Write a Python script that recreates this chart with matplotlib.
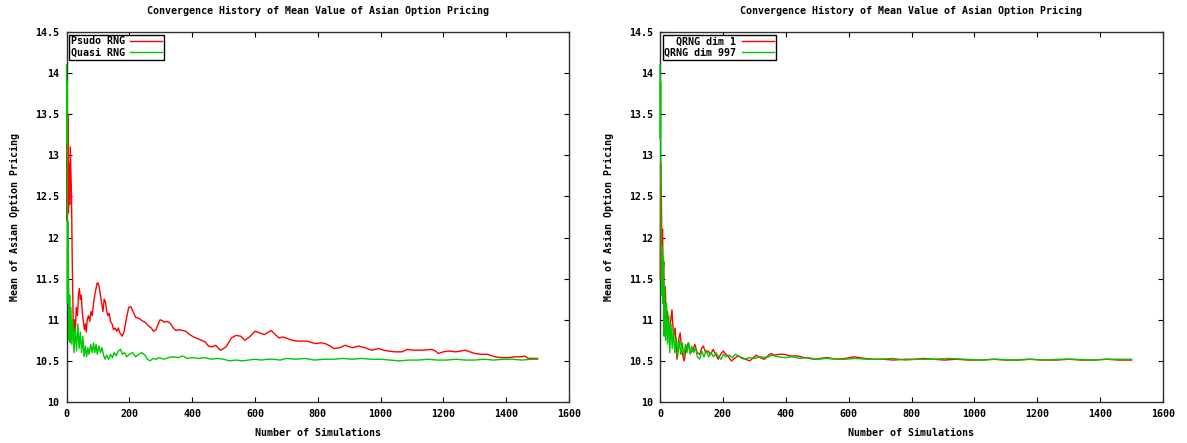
import matplotlib
matplotlib.use("Agg")
import matplotlib.pyplot as plt

# ---------------- data ----------------
title_text = "Convergence History of Mean Value of Asian Option Pricing"
x_label = "Number of Simulations"
y_label = "Mean of Asian Option Pricing"
x_ticks = [0, 200, 400, 600, 800, 1000, 1200, 1400, 1600]
y_ticks = [10, 10.5, 11, 11.5, 12, 12.5, 13, 13.5, 14, 14.5]

# Left panel: Psudo RNG
psudo_x = [1, 2, 4, 6, 8, 10, 12, 14, 16, 18,
           20, 22, 25, 28, 31, 35, 38, 41, 44, 47,
           50, 53, 57, 60, 63, 66, 70, 74, 78, 82,
           86, 90, 94, 97, 100, 104, 108, 112, 116, 120,
           124, 128, 132, 136, 140, 145, 150, 155, 160, 165,
           170, 177, 183, 190, 198, 205, 212, 220, 230, 240,
           250, 260, 270, 277, 285, 292, 298, 305, 312, 320,
           330, 340, 348, 358, 370, 380, 392, 405, 418, 430,
           442, 452, 463, 475, 490, 500, 510, 525, 540, 555,
           568, 585, 600, 615, 630, 652, 665, 676, 690, 705,
           720, 740, 766, 793, 810, 824, 840, 851, 870, 888,
           910, 930, 950, 972, 993, 1010, 1025, 1045, 1068, 1085,
           1105, 1130, 1163, 1175, 1184, 1200, 1216, 1240, 1269, 1285,
           1300, 1320, 1340, 1364, 1385, 1406, 1430, 1450, 1459, 1470,
           1500]
psudo_y = [13.2, 12.2, 13.5, 12.3, 12.9, 12.4, 13.1, 12.8, 12.5, 11.8,
           11.3, 10.8, 11.0, 10.85, 11.15, 11.05, 11.3, 11.38, 11.25, 11.3,
           11.1, 11.0, 10.88, 10.95, 10.85, 11.0, 11.05, 10.98, 11.1, 11.05,
           11.2, 11.3, 11.38, 11.44, 11.45, 11.4, 11.3, 11.2, 11.1, 11.25,
           11.22, 11.1, 11.05, 11.08, 10.98, 10.95, 10.88, 10.9, 10.86, 10.9,
           10.84, 10.8, 10.85, 11.0, 11.15, 11.16, 11.1, 11.03, 11.02, 10.99,
           10.97, 10.93, 10.9, 10.86, 10.88, 10.95, 11.0, 10.99, 10.97, 10.98,
           10.96, 10.9, 10.87, 10.88, 10.87, 10.86, 10.82, 10.79, 10.77, 10.75,
           10.73, 10.68, 10.67, 10.69, 10.63, 10.65, 10.68, 10.78, 10.81, 10.8,
           10.75, 10.8, 10.86, 10.84, 10.82, 10.87, 10.82, 10.78, 10.79, 10.77,
           10.75, 10.74, 10.74, 10.71, 10.72, 10.71, 10.68, 10.65, 10.66, 10.69,
           10.66, 10.68, 10.66, 10.63, 10.65, 10.63, 10.62, 10.61, 10.61, 10.64,
           10.63, 10.63, 10.64, 10.62, 10.59, 10.61, 10.62, 10.61, 10.63, 10.61,
           10.59, 10.58, 10.58, 10.55, 10.54, 10.54, 10.55, 10.55, 10.56, 10.53,
           10.53]

# Left panel: Quasi RNG
quasi_x = [0, 1, 2, 3, 4, 5, 6, 8, 10, 12,
           14, 17, 20, 24, 28, 32, 36, 40, 44, 48,
           52, 56, 60, 64, 68, 72, 77, 82, 86, 90,
           94, 98, 103, 108, 113, 118, 123, 128, 134, 140,
           146, 152, 158, 165, 172, 178, 185, 192, 200, 210,
           220, 230, 240, 250, 258, 266, 275, 285, 295, 310,
           325, 340, 355, 370, 385, 400, 420, 440, 460, 480,
           500, 520, 540, 560, 580, 600, 620, 640, 660, 680,
           700, 730, 760, 790, 820, 850, 880, 910, 940, 970,
           1000, 1030, 1060, 1090, 1120, 1150, 1180, 1210, 1240, 1270,
           1300, 1330, 1360, 1390, 1420, 1450, 1480, 1500]
quasi_y = [14.1, 13.15, 13.9, 11.2, 12.2, 11.3, 11.85, 10.75, 11.3, 10.72,
           11.15, 10.7, 11.0, 10.6, 10.9, 10.62, 10.95, 10.65, 10.85, 10.6,
           10.8, 10.55, 10.68, 10.55, 10.66, 10.58, 10.7, 10.6, 10.72, 10.6,
           10.7, 10.58, 10.68, 10.6, 10.66, 10.57, 10.52, 10.57, 10.52, 10.58,
           10.54, 10.6, 10.56, 10.62, 10.64, 10.58, 10.6, 10.55, 10.58, 10.6,
           10.55, 10.58, 10.6, 10.57, 10.52, 10.5, 10.53, 10.52, 10.54, 10.52,
           10.54, 10.55, 10.54, 10.56, 10.53, 10.54, 10.53, 10.54, 10.52, 10.53,
           10.52, 10.5, 10.51, 10.5, 10.51, 10.52, 10.51, 10.52, 10.52, 10.51,
           10.53, 10.52, 10.53, 10.51, 10.52, 10.52, 10.53, 10.52, 10.53, 10.52,
           10.52, 10.51, 10.5, 10.51, 10.51, 10.52, 10.51, 10.51, 10.52, 10.51,
           10.51, 10.52, 10.51, 10.52, 10.52, 10.51, 10.52, 10.52]

# Right panel: QRNG dim 1
dim1_x = [1, 2, 3, 4, 6, 8, 10, 12, 14, 17,
          20, 24, 28, 33, 38, 43, 48, 54, 59, 64,
          70, 77, 83, 90, 98, 106, 111, 118, 127, 132,
          138, 145, 153, 161, 169, 177, 185, 193, 201, 210,
          218, 227, 237, 248, 260, 272, 285, 295, 306, 318,
          332, 343, 353, 365, 380, 395, 415, 437, 460, 490,
          510, 532, 560, 590, 616, 650, 679, 710, 742, 780,
          810, 837, 870, 905, 942, 980, 1020, 1060, 1100, 1140,
          1180, 1220, 1260, 1300, 1340, 1380, 1420, 1460, 1500]
dim1_y = [11.5, 12.9, 12.2, 12.6, 11.9, 12.1, 11.6, 11.7, 10.92, 11.4,
          10.95, 11.1, 10.85, 10.95, 11.12, 10.8, 10.9, 10.52, 10.75, 10.84,
          10.6, 10.5, 10.65, 10.72, 10.6, 10.64, 10.7, 10.6, 10.58, 10.65,
          10.68, 10.6, 10.62, 10.58, 10.64, 10.58, 10.52, 10.58, 10.62, 10.58,
          10.55, 10.5, 10.53, 10.56, 10.54, 10.52, 10.5, 10.53, 10.57, 10.54,
          10.52, 10.56, 10.59, 10.57, 10.58, 10.58, 10.56, 10.56, 10.54, 10.52,
          10.53, 10.54, 10.52, 10.53, 10.55, 10.53, 10.52, 10.52, 10.51, 10.52,
          10.52, 10.53, 10.52, 10.51, 10.52, 10.51, 10.51, 10.52, 10.51, 10.51,
          10.52, 10.51, 10.51, 10.52, 10.51, 10.51, 10.52, 10.51, 10.51]

# Right panel: QRNG dim 997
dim997_x = [0, 1, 2, 3, 5, 7, 9, 11, 13, 15,
            18, 21, 24, 28, 31, 35, 39, 43, 47, 52,
            56, 61, 66, 71, 76, 81, 86, 91, 96, 101,
            107, 113, 119, 126, 133, 140, 147, 155, 162, 170,
            178, 186, 194, 202, 210, 220, 230, 240, 250, 260,
            270, 285, 300, 320, 340, 355, 375, 400, 420, 445,
            470, 500, 530, 560, 590, 620, 660, 700, 740, 780,
            820, 870, 920, 970, 1020, 1070, 1120, 1170, 1220, 1270,
            1320, 1370, 1420, 1460, 1500]
dim997_y = [14.1, 13.2, 13.9, 12.3, 11.3, 11.9, 11.2, 11.75, 10.8, 11.4,
            10.75, 11.2, 10.7, 11.05, 10.6, 10.95, 10.65, 10.88, 10.6, 10.78,
            10.55, 10.75, 10.58, 10.72, 10.56, 10.7, 10.6, 10.72, 10.58, 10.68,
            10.6, 10.66, 10.55, 10.52, 10.62, 10.55, 10.63, 10.55, 10.6, 10.55,
            10.6, 10.55, 10.52, 10.58, 10.55, 10.57, 10.54, 10.58, 10.56, 10.53,
            10.52, 10.54, 10.53, 10.55, 10.54, 10.57, 10.55, 10.54, 10.55, 10.53,
            10.54, 10.52, 10.53, 10.52, 10.52, 10.53, 10.52, 10.52, 10.53, 10.51,
            10.52, 10.52, 10.53, 10.52, 10.51, 10.52, 10.51, 10.52, 10.51, 10.52,
            10.52, 10.51, 10.52, 10.52, 10.52]

legend_left = ["Psudo RNG", "Quasi RNG"]
legend_right = ["  QRNG dim 1", "QRNG dim 997"]

# ---------------- style ----------------
RED = "#ff0000"
GREEN = "#00c800"
FONT = "DejaVu Sans Mono"
FS = 7.2

W, H = 1187, 443
fig = plt.figure(figsize=(W / 100, H / 100), dpi=100)

ax_bottom = 1 - 402 / H
ax_height = (402 - 32) / H
ax1 = fig.add_axes([66.5 / W, ax_bottom, (569 - 66.5) / W, ax_height])
ax2 = fig.add_axes([660 / W, ax_bottom, (1163 - 660) / W, ax_height])


def style(ax, series, labels):
    for (xs, ys, col), lab in zip(series, labels):
        ax.plot(xs, ys, color=col, lw=1.0, label=lab, zorder=3,
                clip_on=False)
    ax.set_xlim(0, 1600)
    ax.set_ylim(10, 14.5)
    ax.set_xticks(x_ticks)
    ax.set_yticks(y_ticks)
    ax.set_xticklabels([f"{t:g}" for t in x_ticks], fontfamily=FONT,
                       fontweight="bold", fontsize=FS)
    ax.set_yticklabels([f"{t:g}" for t in y_ticks], fontfamily=FONT,
                       fontweight="bold", fontsize=FS)
    ax.tick_params(direction="in", length=3.5, width=0.8, top=True,
                   right=True, pad=5)
    for s in ax.spines.values():
        s.set_linewidth(1.0)
        s.set_color("#303030")
        s.set_zorder(2)
    ax.set_title(title_text, fontfamily=FONT, fontweight="bold",
                 fontsize=FS, pad=13)
    ax.set_xlabel(x_label, fontfamily=FONT, fontweight="bold", fontsize=FS,
                  labelpad=6.5)
    ax.set_ylabel(y_label, fontfamily=FONT, fontweight="bold", fontsize=FS,
                  labelpad=11)
    leg = ax.legend(loc="upper left", markerfirst=False, fancybox=False,
                    framealpha=1, edgecolor="black", handlelength=3.2,
                    handletextpad=0.5, borderpad=0.2, labelspacing=0.1,
                    borderaxespad=0.25,
                    prop={"family": FONT, "weight": "bold", "size": FS})
    leg.get_frame().set_linewidth(1.0)
    leg.set_zorder(5)


style(ax1, [(psudo_x, psudo_y, RED), (quasi_x, quasi_y, GREEN)], legend_left)
style(ax2, [(dim1_x, dim1_y, RED), (dim997_x, dim997_y, GREEN)], legend_right)

fig.savefig("out.png", dpi=100)
